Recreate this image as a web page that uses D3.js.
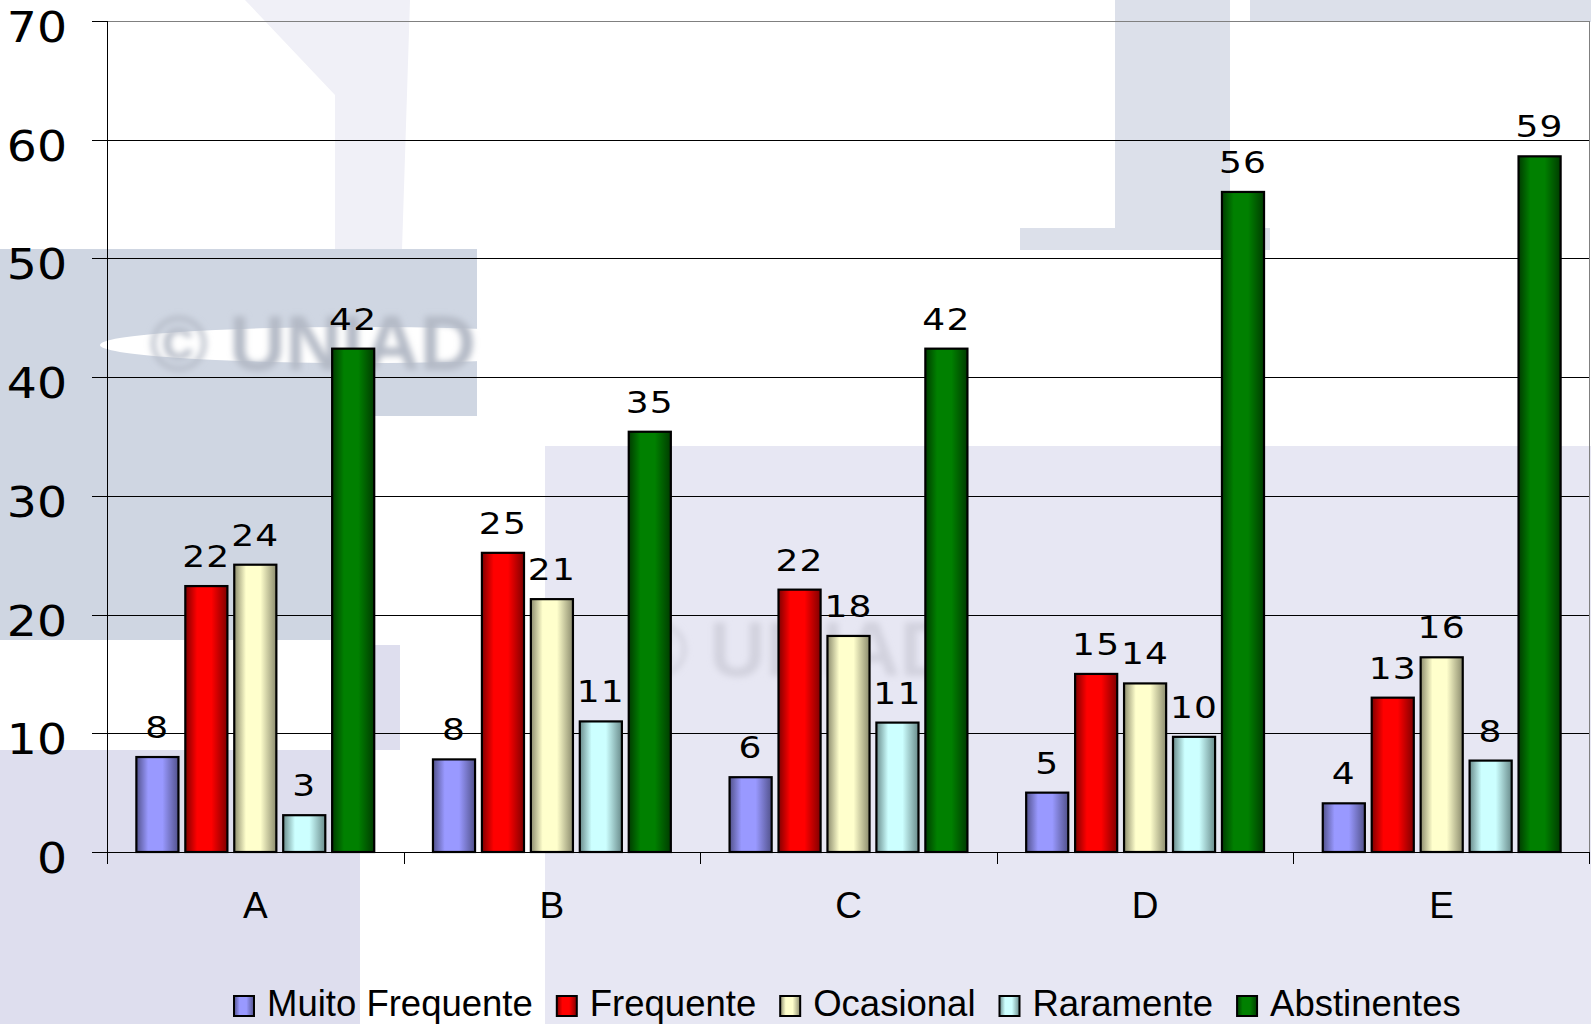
<!DOCTYPE html>
<html lang="pt">
<head>
<meta charset="UTF-8">
<title>Frequência por grupo</title>
<script src="https://cdn.jsdelivr.net/npm/d3@7"></script>
<style>
    body { margin: 0; background: #fff; }
    svg { display: block; }
    .grid line { stroke-width: 1; shape-rendering: crispEdges; }
    .axis path, .axis line { stroke: #000; shape-rendering: crispEdges; }
</style>
</head>
<body>
<div id="chart"></div>
<script>
// data
var categories = ["A", "B", "C", "D", "E"];
var series = ["Muito Frequente", "Frequente", "Ocasional", "Raramente", "Abstinentes"];
var muitoFrequente = [8.0, 7.8, 6.3, 5.0, 4.1];
var frequente = [22.4, 25.2, 22.1, 15.0, 13.0];
var ocasional = [24.2, 21.3, 18.2, 14.2, 16.4];
var raramente = [3.1, 11.0, 10.9, 9.7, 7.7];
var abstinentes = [42.4, 35.4, 42.4, 55.6, 58.6];
var yTicks = [0, 10, 20, 30, 40, 50, 60, 70];

var seriesValues = [muitoFrequente, frequente, ocasional, raramente, abstinentes];
var fills = ["#9999ff", "#ff0000", "#ffffcc", "#ccffff", "#008000"];
var darks = ["#52528c", "#800000", "#8c8c6e", "#6a8c8c", "#003c00"];

var W = 1591, H = 1024;
var margin = { top: 21, right: 1, bottom: 172, left: 107 };
var width = W - margin.left - margin.right,
    height = H - margin.top - margin.bottom;

var svg = d3.select("#chart").append("svg")
    .attr("width", W)
    .attr("height", H);

var defs = svg.append("defs");

// background watermark (rough)
var bg = svg.append("g").attr("class", "bg");
bg.append("rect").attr("x", 0).attr("y", 0).attr("width", W).attr("height", H).attr("fill", "#ffffff");
bg.append("polygon").attr("points", "245,0 410,0 402,250 335,250 335,95").attr("fill", "#f0f0f7");
bg.append("rect").attr("x", 545).attr("y", 446).attr("width", W - 545).attr("height", H - 446).attr("fill", "#e7e7f3");
bg.append("rect").attr("x", 0).attr("y", 750).attr("width", 360).attr("height", H - 750).attr("fill", "#dedeee");
bg.append("rect").attr("x", 360).attr("y", 645).attr("width", 40).attr("height", 105).attr("fill", "#dedeee");
bg.append("rect").attr("x", 0).attr("y", 249).attr("width", 477).attr("height", 167).attr("fill", "#cfd6e2");
bg.append("rect").attr("x", 0).attr("y", 416).attr("width", 335).attr("height", 224).attr("fill", "#cfd6e2");
bg.append("rect").attr("x", 1115).attr("y", 0).attr("width", 115).attr("height", 250).attr("fill", "#dce0ea");
bg.append("rect").attr("x", 1020).attr("y", 228).attr("width", 250).attr("height", 22).attr("fill", "#dce0ea");
bg.append("rect").attr("x", 1250).attr("y", 0).attr("width", W - 1250).attr("height", 22).attr("fill", "#dce0ea");
bg.append("ellipse").attr("cx", 360).attr("cy", 345).attr("rx", 260).attr("ry", 18).attr("fill", "#ffffff");

var blur = defs.append("filter").attr("id", "blur");
blur.append("feGaussianBlur").attr("stdDeviation", 3);
bg.append("text").attr("x", 150).attr("y", 370)
    .attr("filter", "url(#blur)")
    .style("font-family", "Liberation Sans, Arial, sans-serif")
    .style("font-weight", "bold").style("font-size", "78px")
    .attr("fill", "#b4bac6").text("© UNIAD");
bg.append("text").attr("x", 630).attr("y", 676)
    .attr("filter", "url(#blur)")
    .style("font-family", "Liberation Sans, Arial, sans-serif")
    .style("font-weight", "bold").style("font-size", "78px")
    .attr("fill", "#d2d2de").text("© UNIAD");

// gradients for bars (dark - light - dark)
series.forEach(function (s, i) {
    var g = defs.append("linearGradient")
        .attr("id", "grad" + i)
        .attr("x1", "0%").attr("x2", "100%").attr("y1", "0%").attr("y2", "0%");
    g.append("stop").attr("offset", "0%").attr("stop-color", darks[i]);
    g.append("stop").attr("offset", "28%").attr("stop-color", fills[i]);
    g.append("stop").attr("offset", "62%").attr("stop-color", fills[i]);
    g.append("stop").attr("offset", "100%").attr("stop-color", darks[i]);
});

var chart = svg.append("g")
    .attr("transform", "translate(" + margin.left + "," + margin.top + ")");

var x0 = d3.scaleBand().domain(categories).range([0, width]).padding(0);
var x1 = d3.scaleBand().domain(series).range([0, x0.bandwidth()])
    .paddingInner(0.14).paddingOuter(0.6);
var y = d3.scaleLinear().domain([0, 70]).range([height, 0]);

// gridlines
chart.append("g").attr("class", "grid")
    .selectAll("line")
    .data(yTicks.slice(1))
    .enter().append("line")
    .attr("x1", 0).attr("x2", width)
    .attr("y1", function (d) { return Math.round(y(d)) + 0.5; })
    .attr("y2", function (d) { return Math.round(y(d)) + 0.5; })
    .attr("stroke", function (d) { return d === 70 ? "#808080" : "#000"; });

chart.append("line")
    .attr("x1", width - 0.5).attr("x2", width - 0.5)
    .attr("y1", 0).attr("y2", height)
    .attr("stroke", "#808080");

// y axis
chart.append("g").attr("class", "axis")
    .call(d3.axisLeft(y).tickValues(yTicks).tickSize(15).tickFormat(""));

chart.append("g")
    .selectAll("text")
    .data(yTicks)
    .enter().append("text")
    .attr("transform", function (d) { return "translate(-40," + (y(d) + 21) + ") scale(1.1,1)"; })
    .attr("text-anchor", "end")
    .style("font-family", "DejaVu Sans, Verdana, sans-serif")
    .style("font-size", "43px")
    .attr("fill", "#000")
    .text(function (d) { return d; });

// x axis
var xAxis = chart.append("g").attr("class", "axis")
    .attr("transform", "translate(0," + height + ")");
xAxis.append("line").attr("x1", 0).attr("x2", width).attr("y1", 0.5).attr("y2", 0.5).attr("stroke", "#000");
xAxis.selectAll("line.tick")
    .data(categories.concat(["end"]))
    .enter().append("line")
    .attr("class", "tick")
    .attr("x1", function (d, i) { return i < categories.length ? x0(d) + 0.5 : width - 0.5; })
    .attr("x2", function (d, i) { return i < categories.length ? x0(d) + 0.5 : width - 0.5; })
    .attr("y1", 0).attr("y2", 12)
    .attr("stroke", "#000");

xAxis.selectAll("text")
    .data(categories)
    .enter().append("text")
    .attr("x", function (d) { return x0(d) + x0.bandwidth() / 2; })
    .attr("y", 66)
    .attr("text-anchor", "middle")
    .style("font-family", "Liberation Sans, Arial, sans-serif")
    .style("font-size", "37px")
    .attr("fill", "#000")
    .text(function (d) { return d; });

// bars
var groups = chart.selectAll("g.group")
    .data(categories)
    .enter().append("g")
    .attr("class", "group")
    .attr("transform", function (d) { return "translate(" + x0(d) + ",0)"; });

var bars = groups.selectAll("g.bar")
    .data(function (c, ci) {
        return series.map(function (s, si) { return { s: s, si: si, v: seriesValues[si][ci] }; });
    })
    .enter().append("g").attr("class", "bar");

bars.append("rect")
    .attr("x", function (d) { return x1(d.s); })
    .attr("y", function (d) { return y(d.v); })
    .attr("width", x1.bandwidth())
    .attr("height", function (d) { return height - y(d.v); })
    .attr("fill", function (d) { return "url(#grad" + d.si + ")"; })
    .attr("stroke", "#000")
    .attr("stroke-width", 2.2);

bars.append("text")
    .attr("transform", function (d) {
        return "translate(" + (x1(d.s) + x1.bandwidth() / 2) + "," + (y(d.v) - 19) + ") scale(1.2,1)";
    })
    .attr("text-anchor", "middle")
    .style("font-family", "DejaVu Sans, Verdana, sans-serif")
    .style("font-size", "30px")
    .style("letter-spacing", "1px")
    .attr("fill", "#000")
    .text(function (d) { return d3.format(".0f")(d.v); });

// legend
var legend = svg.append("g").attr("class", "legend");
var lx = 233;
series.forEach(function (s, i) {
    legend.append("rect")
        .attr("x", lx + 1).attr("y", 996)
        .attr("width", 20).attr("height", 20)
        .attr("fill", "url(#grad" + i + ")")
        .attr("stroke", "#000").attr("stroke-width", 2);
    var t = legend.append("text")
        .attr("x", lx + 34).attr("y", 1016)
        .style("font-family", "Liberation Sans, Arial, sans-serif")
        .style("font-size", "36.5px")
        .attr("fill", "#000")
        .text(s);
    lx += 34 + t.node().getComputedTextLength() + 23;
});
</script>
</body>
</html>
